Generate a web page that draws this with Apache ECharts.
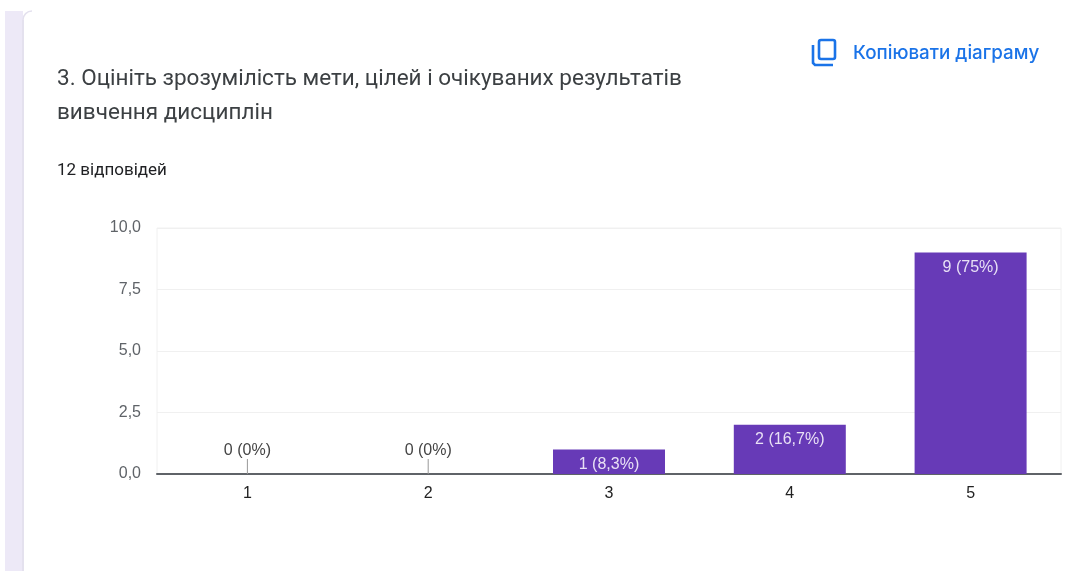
<!DOCTYPE html>
<html>
<head>
<meta charset="utf-8">
<style>
  html, body { margin: 0; padding: 0; background: #fff; }
  #chart { width: 1068px; height: 571px; }
</style>
<script src="https://cdn.jsdelivr.net/npm/echarts@6/dist/echarts.min.js"></script>
</head>
<body>
<div id="chart"></div>
<script>
const categories = ['1', '2', '3', '4', '5'];
const counts = [0, 0, 1, 2, 9];
const percents = ['0%', '0%', '8,3%', '16,7%', '75%'];
const titleText = '3. Оцініть зрозумілість мети, цілей і очікуваних результатів\nвивчення дисциплін';
const answersText = '12 відповідей';
const copyText = 'Копіювати діаграму';

const chart = echarts.init(document.getElementById('chart'));

// підпис над нульовими стовпцями, всередині для решти
const seriesData = counts.map((v, i) => {
  const text = v + ' (' + percents[i] + ')';
  if (v === 0) {
    return {
      value: v,
      label: { show: true, position: 'top', distance: 4, color: '#444', formatter: text },
      labelLine: { show: true, lineStyle: { color: '#999', width: 1 } }
    };
  }
  return {
    value: v,
    label: { show: true, position: 'insideTop', distance: 7, color: '#e8e0f5', formatter: text }
  };
});

chart.setOption({
  animation: false,
  backgroundColor: '#fff',
  title: [
    {
      text: titleText,
      left: 52,
      top: 57,
      textStyle: { fontFamily: 'Roboto', fontSize: 22.5, fontWeight: 400, color: '#3c4043', lineHeight: 34 }
    },
    {
      text: answersText,
      left: 52,
      top: 157,
      textStyle: { fontFamily: 'Roboto', fontSize: 17, fontWeight: 400, color: '#202124', lineHeight: 18 }
    },
    {
      text: copyText,
      left: 848,
      top: 37,
      textStyle: { fontFamily: 'Inter', fontSize: 18.8, fontWeight: 500, color: '#1a73e8', lineHeight: 22 }
    }
  ],
  graphic: [
    { type: 'rect', shape: { x: 5, y: 11, width: 18, height: 560 }, style: { fill: '#ede9f7' }, silent: true },
    { type: 'rect', shape: { x: 22, y: 20, width: 2, height: 551 }, style: { fill: '#e4e1ee' }, silent: true },
    { type: 'arc', shape: { cx: 32, cy: 20, r: 9, startAngle: Math.PI, endAngle: 1.5 * Math.PI }, style: { fill: 'none', stroke: '#e4e1ee', lineWidth: 1.5 }, silent: true },
    { type: 'rect', shape: { x: 819, y: 40, width: 16, height: 19, r: 2 }, style: { fill: 'none', stroke: '#1a73e8', lineWidth: 2.6 }, silent: true },
    { type: 'polyline', shape: { points: [[813, 45], [813, 63], [815, 65], [833, 65]] }, style: { fill: 'none', stroke: '#1a73e8', lineWidth: 2.6 }, silent: true }
  ],
  grid: {
    left: 157, right: 7, top: 228, bottom: 97,
    show: true, borderColor: '#f0f0f0', borderWidth: 1
  },
  xAxis: {
    type: 'category',
    data: categories,
    axisTick: { show: false },
    axisLine: { lineStyle: { color: '#5f6368', width: 2 } },
    axisLabel: { fontFamily: 'Liberation Sans', fontSize: 16, color: '#222', margin: 12 }
  },
  yAxis: {
    type: 'value',
    min: 0,
    max: 10,
    interval: 2.5,
    axisLine: { show: false },
    axisTick: { show: false },
    splitLine: { lineStyle: { color: '#f0f0f0', width: 1 } },
    axisLabel: {
      fontFamily: 'Liberation Sans', fontSize: 16, color: '#5f6368', margin: 16,
      padding: [2, 0, 0, 0],
      formatter: (v) => v.toFixed(1).replace('.', ',')
    }
  },
  series: [{
    type: 'bar',
    data: seriesData,
    barWidth: 112,
    itemStyle: { color: '#673ab7' },
    label: { fontFamily: 'Liberation Sans', fontSize: 16 },
    labelLayout: (p) => (counts[p.dataIndex] === 0 ? { dy: -11 } : {})
  }]
});
</script>
</body>
</html>
